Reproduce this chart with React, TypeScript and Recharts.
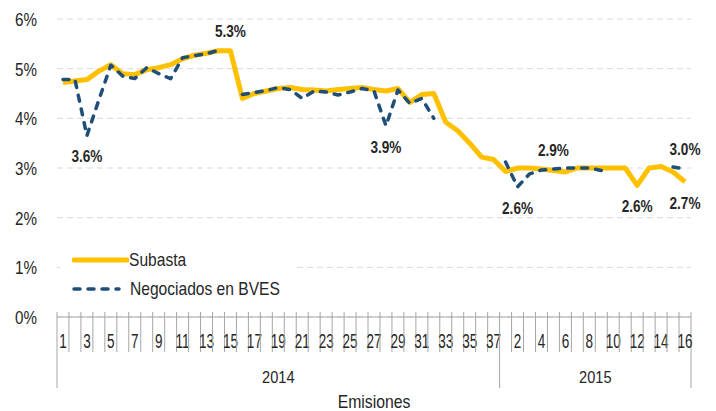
import { LineChart, Line, XAxis, YAxis, CartesianGrid, Legend, LabelList } from 'recharts'

// emisiones por año (etiquetas del eje X)
const emisiones2014 = ['1', '2', '3', '4', '5', '6', '7', '8', '9', '10', '11', '12', '13', '14', '15', '16', '17', '18', '19', '20', '21', '22', '23', '24', '25', '26', '27', '28', '29', '30', '31', '32', '33', '34', '35', '36', '37']
const emisiones2015 = ['1', '2', '3', '4', '5', '6', '7', '8', '9', '10', '11', '12', '13', '14', '15', '16']
const years = ['2014', '2015']

// tasas en %
const subasta = [
  4.72, 4.75, 4.78, 4.95, 5.08, 4.9, 4.88, 4.98, 5.02, 5.08, 5.2, 5.27, 5.31, 5.36, 5.36, 4.4, 4.5, 4.55, 4.6, 4.62,
  4.58, 4.57, 4.55, 4.58, 4.6, 4.62, 4.58, 4.55, 4.6, 4.32, 4.48, 4.5, 3.92, 3.75, 3.5, 3.22, 3.17,
  2.93, 3.0, 3.0, 2.98, 2.95, 2.92, 3.0, 3.0, 3.0, 3.0, 3.0, 2.65, 3.0, 3.03, 2.92, 2.72,
]
const negociados = [
  4.78, 4.78, 3.65, 4.37, 5.07, 4.85, 4.8, 5.02, 4.9, 4.8, 5.22, 5.26, 5.3, 5.37, null, 4.48, 4.52, 4.56, 4.62, 4.58,
  4.4, 4.55, 4.53, 4.47, 4.53, 4.6, 4.55, 3.85, 4.57, 4.3, 4.4, 4.0, null, null, null, null, null,
  3.12, 2.62, 2.88, 2.96, 2.98, 3.0, 3.0, 3.0, 2.95, null, null, null, null, null, 3.02, 2.98,
]

const yTicks = [0, 1, 2, 3, 4, 5, 6]

const subastaLabels: Record<number, string> = { 14: '5.3%', 41: '2.9%', 48: '2.6%', 52: '2.7%' }
const negociadosLabels: Record<number, string> = { 2: '3.6%', 27: '3.9%', 38: '2.6%', 52: '3.0%' }

const groups = [
  { year: years[0], cats: emisiones2014 },
  { year: years[1], cats: emisiones2015 },
]
const data = groups
  .flatMap((g) => g.cats.map((c, j) => ({ key: `${g.year}-${c}`, label: c, year: g.year, first: j === 0, count: g.cats.length })))
  .map((d, i) => ({ ...d, subasta: subasta[i], negociados: negociados[i] }))

const FONT = "'Liberation Sans', Arial, sans-serif"
const TEXT = '#262626'
const AXIS = '#A6A6A6'
const GOLD = '#FFC000'
const NAVY = '#1F4E79'

const above = new Set(['s14', 's41', 'n52'])

// texto estrecho (la fuente original es condensada)
function Narrow({ x, y, sx, size, anchor = 'middle', bold = false, dy, children }: any) {
  return (
    <text
      transform={`translate(${x},${y}) scale(${sx},1)`}
      textAnchor={anchor}
      dy={dy}
      fontSize={size}
      fontWeight={bold ? 'bold' : 'normal'}
      fill={TEXT}
      fontFamily={FONT}
    >
      {children}
    </text>
  )
}

function EmisionTick(props: any) {
  const { x, y, payload, index } = props
  const half = payload?.offset || props.width / data.length / 2
  const d = data[index]
  if (!d) return null
  const left = x - half
  return (
    <g>
      <line x1={left} x2={left} y1={y - 5} y2={d.first ? y + 71 : y + 35} stroke={AXIS} strokeWidth={1} />
      {index === data.length - 1 && (
        <line x1={x + half} x2={x + half} y1={y - 5} y2={y + 71} stroke={AXIS} strokeWidth={1} />
      )}
      {index % 2 === 0 && (
        <Narrow x={x} y={y + 31} sx={0.66} size={20.5}>
          {d.label}
        </Narrow>
      )}
      {d.first && (
        <Narrow x={left + d.count * half} y={y + 66} sx={0.86} size={17}>
          {d.year}
        </Narrow>
      )}
    </g>
  )
}

function PctTick(props: any) {
  const { x, y, payload } = props
  return (
    <Narrow x={x} y={y} dy="0.36em" sx={0.8} size={19} anchor="end">
      {`${payload.value}%`}
    </Narrow>
  )
}

const pointLabel = (labels: Record<number, string>, prefix: string) => (p: any) => {
  const t = labels[p.index]
  if (!t) return null
  const px = p.x ?? p.viewBox?.x
  const py = p.y ?? p.viewBox?.y
  const dy = above.has(prefix + p.index) ? -20 : 21
  return (
    <Narrow x={px} y={py + dy} dy="0.36em" sx={0.85} size={16} bold>
      {t}
    </Narrow>
  )
}

const axisTitle = (p: any) => {
  const vb = p.viewBox
  return (
    <Narrow x={vb.x + vb.width / 2} y={vb.y + vb.height - 3} sx={0.9} size={17.5}>
      Emisiones
    </Narrow>
  )
}

const legendText: any = {
  display: 'inline-block',
  whiteSpace: 'nowrap',
  transform: 'scaleX(0.82)',
  transformOrigin: 'left center',
}

function LegendBox() {
  return (
    <div style={{ background: '#fff', padding: '0 0 0 12px', fontFamily: FONT, fontSize: 19, color: TEXT, lineHeight: '29px' }}>
      <div style={{ display: 'flex', alignItems: 'center', height: 29 }}>
        <svg width={57} height={10} style={{ flex: 'none' }}>
          <line x1={2} x2={55} y1={5} y2={5} stroke={GOLD} strokeWidth={5} strokeLinecap="round" />
        </svg>
        <span style={legendText}>Subasta</span>
      </div>
      <div style={{ display: 'flex', alignItems: 'center', height: 29 }}>
        <svg width={58} height={10} style={{ flex: 'none' }}>
          <line x1={2} x2={47} y1={5} y2={5} stroke={NAVY} strokeWidth={3.5} strokeDasharray="6 8" strokeLinecap="round" />
        </svg>
        <span style={legendText}>Negociados en BVES</span>
      </div>
    </div>
  )
}

export default function App() {
  return (
    <div style={{ position: 'absolute', left: 0, top: 0, background: '#fff' }}>
      <LineChart width={716} height={411} data={data} margin={{ top: 19, right: 25, bottom: 0, left: 0 }}>
        <CartesianGrid vertical={false} stroke="#D9D9D9" strokeDasharray="6 4" />
        <YAxis
          width={57}
          domain={[0, 6]}
          ticks={yTicks}
          axisLine={false}
          tickLine={false}
          tickSize={0}
          tickMargin={20}
          tick={<PctTick />}
        />
        <XAxis
          dataKey="key"
          scale="band"
          interval={0}
          height={94}
          tickLine={false}
          tickSize={0}
          tickMargin={0}
          axisLine={{ stroke: AXIS }}
          tick={<EmisionTick />}
          label={axisTitle}
        />
        <Legend
          layout="vertical"
          align="center"
          verticalAlign="middle"
          wrapperStyle={{ left: 60, top: 245, width: 235 }}
          content={<LegendBox />}
        />
        <Line
          type="linear"
          dataKey="subasta"
          name="Subasta"
          stroke={GOLD}
          strokeWidth={5}
          strokeLinejoin="round"
          dot={false}
          activeDot={false}
          isAnimationActive={false}
        >
          <LabelList dataKey="subasta" content={pointLabel(subastaLabels, 's')} />
        </Line>
        <Line
          type="linear"
          dataKey="negociados"
          name="Negociados en BVES"
          stroke={NAVY}
          strokeWidth={3.5}
          strokeDasharray="6 8"
          strokeLinecap="round"
          strokeLinejoin="round"
          dot={false}
          activeDot={false}
          isAnimationActive={false}
        >
          <LabelList dataKey="negociados" content={pointLabel(negociadosLabels, 'n')} />
        </Line>
      </LineChart>
    </div>
  )
}
